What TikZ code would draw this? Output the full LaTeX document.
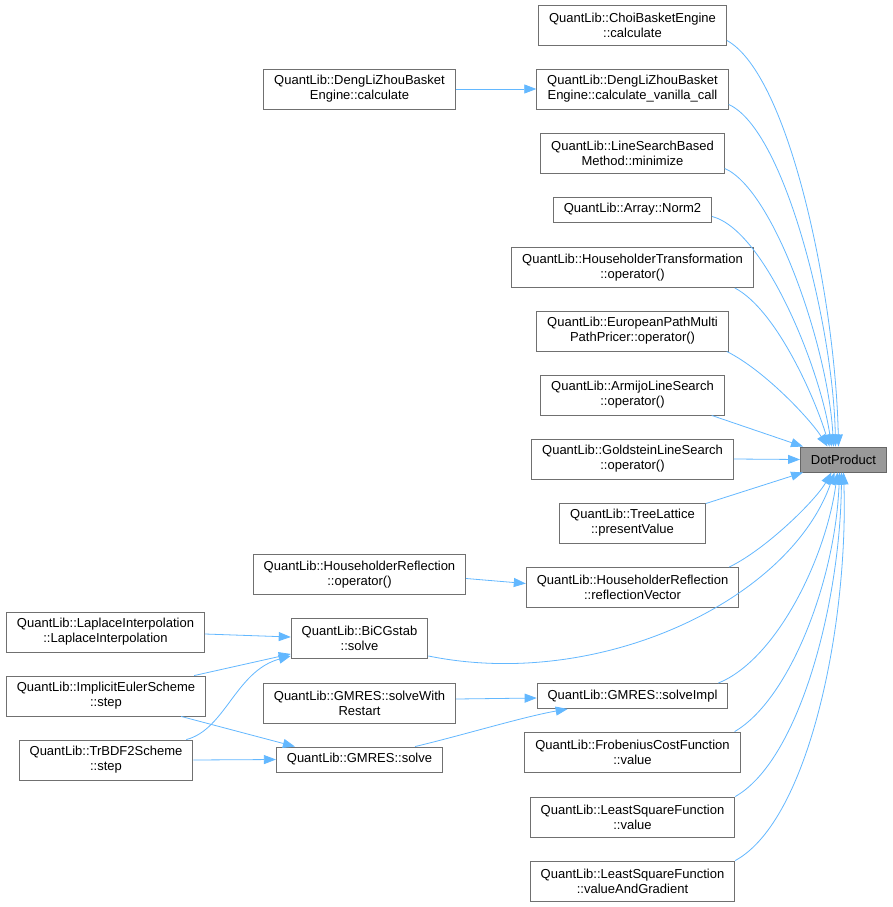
\documentclass[tikz,border=0pt]{standalone}
\usepackage{fontspec}
\setmainfont{Liberation Sans}
\usepackage{xcolor}
\usetikzlibrary{arrows.meta}
\definecolor{edgeblue}{HTML}{63B8FF}
\definecolor{boxgray}{HTML}{707070}
\definecolor{rootfill}{HTML}{999999}

\begin{document}
\begin{tikzpicture}[x=1pt,y=-1pt,
    fn/.style={draw=boxgray, line width=0.9pt, fill=white, align=center,
      font=\fontsize{13}{15}\selectfont, inner xsep=10.5pt, inner ysep=0pt,
      minimum height=25pt},
    fntwo/.style={fn, minimum height=40pt},
    root/.style={fn, fill=rootfill, draw=black!60},
    call/.style={draw=edgeblue, line width=0.8pt, -{Triangle[length=12pt,width=9pt]}}]
      \useasboundingbox[fill=white] (0,0) rectangle (892,907);

      % Callee
      \node[root] (dotProduct) at (843.5,459.5) {DotProduct};

      % Direct callers
      \node[fntwo] (choiCalc) at (632.5,25) {QuantLib::ChoiBasketEngine\\::calculate};
      \node[fntwo] (dlzVanilla) at (632.5,89) {QuantLib::DengLiZhouBasket\\Engine::calculate\_vanilla\_call};
      \node[fntwo] (lsbMin) at (632.5,153) {QuantLib::LineSearchBased\\Method::minimize};
      \node[fn] (arrNorm) at (632.5,209.5) {QuantLib::Array::Norm2};
      \node[fntwo] (hhtOp) at (632.5,267.5) {QuantLib::HouseholderTransformation\\::operator()};
      \node[fntwo] (epmpOp) at (632.5,331) {QuantLib::EuropeanPathMulti\\PathPricer::operator()};
      \node[fntwo] (armijoOp) at (632.5,395) {QuantLib::ArmijoLineSearch\\::operator()};
      \node[fntwo] (goldsteinOp) at (632.5,459) {QuantLib::GoldsteinLineSearch\\::operator()};
      \node[fntwo] (treePV) at (632.5,523) {QuantLib::TreeLattice\\::presentValue};
      \node[fntwo] (hhrVec) at (632.5,587.5) {QuantLib::HouseholderReflection\\::reflectionVector};
      \node[fn] (gmresImpl) at (632.5,696) {QuantLib::GMRES::solveImpl};
      \node[fntwo] (frobValue) at (632.5,752) {QuantLib::FrobeniusCostFunction\\::value};
      \node[fntwo] (lsfValue) at (632.5,817) {QuantLib::LeastSquareFunction\\::value};
      \node[fntwo] (lsfGrad) at (632.5,881) {QuantLib::LeastSquareFunction\\::valueAndGradient};

      % Second level
      \node[fntwo] (dlzCalc) at (359.5,89) {QuantLib::DengLiZhouBasket\\Engine::calculate};
      \node[fntwo] (hhrOp) at (359.5,574.5) {QuantLib::HouseholderReflection\\::operator()};
      \node[fntwo] (bicgSolve) at (359.5,638.5) {QuantLib::BiCGstab\\::solve};
      \node[fntwo] (gmresRestart) at (359.5,703) {QuantLib::GMRES::solveWith\\Restart};
      \node[fn] (gmresSolve) at (359.5,759.5) {QuantLib::GMRES::solve};

      % Third level
      \node[fntwo] (laplace) at (105.5,632) {QuantLib::LaplaceInterpolation\\::LaplaceInterpolation};
      \node[fntwo] (eulerStep) at (106,696) {QuantLib::ImplicitEulerScheme\\::step};
      \node[fntwo] (trbdfStep) at (106,760) {QuantLib::TrBDF2Scheme\\::step};

      % Calls into DotProduct
      \draw[call] ([yshift=5pt]choiCalc.south east) .. controls +(63,35) and +(-3,-147) .. ([xshift=-5pt]dotProduct.north);
      \draw[call] ([yshift=5pt]dlzVanilla.south east) .. controls +(57,26) and +(-2,-117) .. ([xshift=-8pt]dotProduct.north);
      \draw[call] ([yshift=5pt]lsbMin.south east) .. controls +(50,22) and +(-5,-97) .. ([xshift=-10pt]dotProduct.north);
      \draw[call] ([yshift=6pt]arrNorm.south east) .. controls +(53,14) and +(-11,-77) .. ([xshift=-12pt]dotProduct.north);
      \draw[call] ([xshift=-19pt]hhtOp.south east) .. controls +(42,22) and +(-14,-47) .. ([xshift=-14pt]dotProduct.north);
      \draw[call] ([xshift=-2pt]epmpOp.south east) .. controls +(38,19) and +(-17,-27) .. ([xshift=-16pt]dotProduct.north);
      \draw[call] ([xshift=-13pt]armijoOp.south east) -- ([xshift=3pt]dotProduct.north west);
      \draw[call] (goldsteinOp.east) -- (dotProduct.west);
      \draw[call] ([yshift=-1pt]treePV.north east) -- ([xshift=3pt]dotProduct.south west);
      \draw[call] ([xshift=-10pt]hhrVec.north east) .. controls +(37,-18) and +(-16,28) .. ([xshift=-12pt]dotProduct.south);
      \draw[call] ([yshift=3pt]bicgSolve.south east) .. controls +(171,35) and +(-45,128) .. ([xshift=-9pt]dotProduct.south);
      \draw[call] ([xshift=-10pt]gmresImpl.north east) .. controls +(57,-23) and +(-12,88) .. ([xshift=-6pt]dotProduct.south);
      \draw[call] ([xshift=-6pt]frobValue.north east) .. controls +(55,-32) and +(-4,108) .. ([xshift=-4pt]dotProduct.south);
      \draw[call] (lsfValue.north east) .. controls +(65,-37) and +(-1,128) .. ([xshift=-2pt]dotProduct.south);
      \draw[call] (lsfGrad.north east) .. controls +(75,-41) and +(5,148) .. (dotProduct.south);

      % Calls into second level
      \draw[call] (dlzCalc.east) -- (dlzVanilla.west);
      \draw[call] ([yshift=-4pt]hhrOp.east) -- ([yshift=4pt]hhrVec.west);
      \draw[call] ([yshift=4pt]gmresRestart.east) -- ([yshift=-2pt]gmresImpl.west);
      \draw[call] ([xshift=-28pt]gmresSolve.north east) .. controls +(50,-12) and +(-45,8) .. ([xshift=31pt]gmresImpl.south west);

      % Calls into solvers
      \draw[call] ([yshift=-2pt]laplace.east) -- ([yshift=1.5pt]bicgSolve.west);
      \draw[call] ([xshift=-12pt]eulerStep.north east) -- ([yshift=5pt]bicgSolve.south west);
      \draw[call] ([xshift=-25pt]eulerStep.south east) -- ([xshift=19pt]gmresSolve.north west);
      \draw[call] ([xshift=-7pt]trbdfStep.north east) .. controls +(39,-10) and +(-55,15) .. ([yshift=3pt]bicgSolve.south west);
      \draw[call] (trbdfStep.east) -- (gmresSolve.west);
    \end{tikzpicture}
\end{document}
